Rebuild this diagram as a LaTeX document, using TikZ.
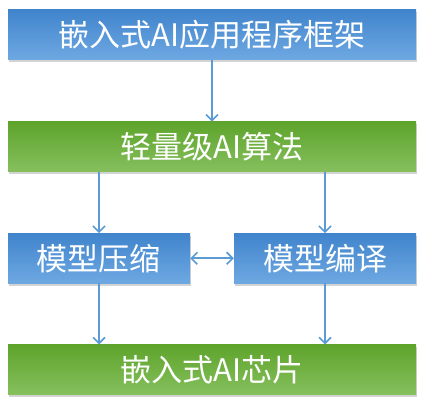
\documentclass[tikz,border=0pt]{standalone}
\usepackage{fontspec}
\setmainfont{Noto Sans CJK SC}
\usetikzlibrary{arrows.meta, positioning, shadows}

\definecolor{bluetop}{RGB}{110,168,226}
\definecolor{bluebot}{RGB}{64,132,204}
\definecolor{greentop}{RGB}{134,192,94}
\definecolor{greenbot}{RGB}{94,164,44}
\definecolor{arrowblue}{RGB}{91,155,213}

\begin{document}
\begin{tikzpicture}[
  node distance=61pt,
  every node/.style={font=\fontsize{31}{36}\selectfont, text=white, inner sep=0pt},
  box/.style={minimum height=50pt, drop shadow={shadow xshift=1pt, shadow yshift=-2.5pt, opacity=0.35}},
  bluebox/.style={box, top color=bluebot, bottom color=bluetop},
  greenbox/.style={box, top color=greenbot, bottom color=greentop},
  >={Straight Barb[length=6pt, width=12pt]},
  link/.style={draw=arrowblue, line width=1.6pt}
]
  \useasboundingbox (0,0) rectangle (424pt,416pt);

  % Layers
  \node (app) [bluebox, minimum width=408pt] at (212pt,381.5pt) {嵌入式AI应用程序框架};
  \node (algo) [greenbox, minimum width=408pt, below=62pt of app] {轻量级AI算法};

  % Two tools below the algorithms
  \node (compress) [bluebox, minimum width=182pt, below=61pt of algo, xshift=-113pt] {模型压缩};
  \node (compile) [bluebox, minimum width=182pt, below=61pt of algo, xshift=113pt] {模型编译};

  % Chip at the bottom
  \node (chip) [greenbox, minimum width=408pt, below=61pt of compress, xshift=113pt] {嵌入式AI芯片};

  % Edges
  \draw [link, ->] (app) -- (algo);
  \draw [link, ->] (compress |- algo.south) -- (compress);
  \draw [link, ->] (compile |- algo.south) -- (compile);
  \draw [link, <->] (compress) -- (compile);
  \draw [link, ->] (compress) -- (compress |- chip.north);
  \draw [link, ->] (compile) -- (compile |- chip.north);
\end{tikzpicture}
\end{document}
